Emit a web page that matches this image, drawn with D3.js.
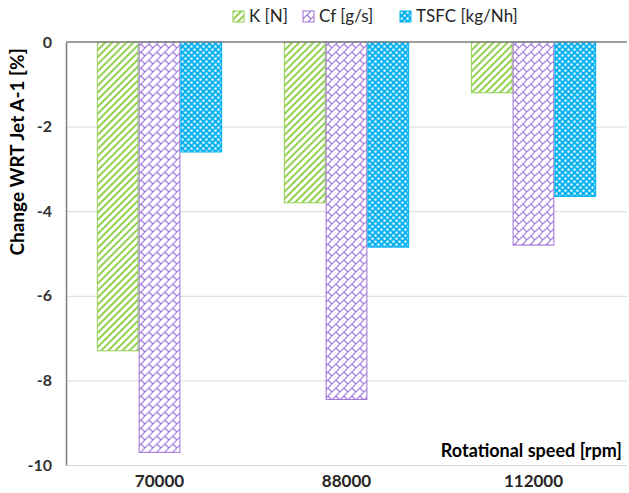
<!DOCTYPE html>
<html>
<head>
<meta charset="utf-8">
<script src="https://cdn.jsdelivr.net/npm/d3@7"></script>
<style>
  body { margin: 0; background: #fff; }
  svg { display: block; font-family: Lato, "Open Sans", sans-serif; }
</style>
</head>
<body>
<svg id="chart" width="629" height="493"></svg>
<script>
// data
const categories = ["70000", "88000", "112000"];
const seriesNames = ["K [N]", "Cf [g/s]", "TSFC [kg/Nh]"];
const kValues = [-7.3, -3.8, -1.2];
const cfValues = [-9.7, -8.45, -4.8];
const tsfcValues = [-2.6, -4.85, -3.65];
const yTicks = [0, -2, -4, -6, -8, -10];

const seriesValues = [kValues, cfValues, tsfcValues];
const colors = ["#92d050", "#9c6fd6", "#00b0f0"];
const patternIds = ["pat-k", "pat-cf", "pat-tsfc"];

const width = 629, height = 493;
const margin = { top: 42, right: 2, bottom: 28, left: 66 };

const svg = d3.select("#chart");
const defs = svg.append("defs");

// green - wide upward diagonal
const pk = defs.append("pattern")
  .attr("id", patternIds[0])
  .attr("patternUnits", "userSpaceOnUse")
  .attr("width", 5).attr("height", 5)
  .attr("patternTransform", "rotate(45)");
pk.append("rect").attr("width", 5).attr("height", 5).attr("fill", "#fff");
pk.append("rect").attr("x", 0).attr("width", 2).attr("height", 5).attr("fill", colors[0]);

// purple - diagonal brick
const pc = defs.append("pattern")
  .attr("id", patternIds[1])
  .attr("patternUnits", "userSpaceOnUse")
  .attr("width", 8).attr("height", 8);
pc.append("rect").attr("width", 8).attr("height", 8).attr("fill", "#fff");
pc.append("path")
  .attr("d", "M-1,9 L9,-1 M4,4 L8,8")
  .attr("stroke", colors[1]).attr("stroke-width", 1.1).attr("fill", "none");
pc.append("path")
  .attr("d", "M-4,4 L0,0 M4,12 L12,4")
  .attr("stroke", colors[1]).attr("stroke-width", 1.1).attr("fill", "none");

// blue - checker
const pt = defs.append("pattern")
  .attr("id", patternIds[2])
  .attr("patternUnits", "userSpaceOnUse")
  .attr("width", 6).attr("height", 6);
pt.append("rect").attr("width", 6).attr("height", 6).attr("fill", colors[2]);
pt.append("rect").attr("x", 0.5).attr("y", 0.5).attr("width", 2.2).attr("height", 2.2).attr("fill", "#fff");
pt.append("rect").attr("x", 3.5).attr("y", 3.5).attr("width", 2.2).attr("height", 2.2).attr("fill", "#fff");

const x0 = d3.scaleBand()
  .domain(categories)
  .range([margin.left, width - margin.right])
  .paddingInner(0.33)
  .paddingOuter(0.165);

const x1 = d3.scaleBand()
  .domain(seriesNames)
  .range([0, x0.bandwidth()]);

const y = d3.scaleLinear()
  .domain([-10, 0])
  .range([height - margin.bottom, margin.top]);

// gridlines
svg.append("g")
  .selectAll("line")
  .data(yTicks.filter(d => d !== 0))
  .join("line")
  .attr("x1", margin.left)
  .attr("x2", width - margin.right)
  .attr("y1", d => y(d) + 0.5)
  .attr("y2", d => y(d) + 0.5)
  .attr("stroke", "#d9d9d9")
  .attr("stroke-width", 1);

// bars
const groups = svg.append("g")
  .selectAll("g")
  .data(categories)
  .join("g")
  .attr("transform", d => `translate(${x0(d)},0)`);

groups.selectAll("rect")
  .data((c, ci) => seriesNames.map((s, si) => ({ s, si, v: seriesValues[si][ci] })))
  .join("rect")
  .attr("x", d => x1(d.s) + 0.5)
  .attr("y", y(0))
  .attr("width", x1.bandwidth() - 1)
  .attr("height", d => y(d.v) - y(0))
  .attr("fill", d => `url(#${patternIds[d.si]})`)
  .attr("stroke", d => colors[d.si])
  .attr("stroke-width", 1);

// y axis
const yAxis = svg.append("g")
  .attr("transform", `translate(${margin.left},0)`)
  .call(d3.axisLeft(y).tickValues(yTicks).tickSize(0).tickPadding(14).tickFormat(d => String(d)));
yAxis.select(".domain").attr("stroke", "#7f7f7f").attr("stroke-width", 1.5);
yAxis.selectAll("text")
  .attr("font-size", 16)
  .attr("font-family", "Lato, sans-serif")
  .attr("font-weight", "bold")
  .attr("fill", "#333");

// zero line (category axis)
svg.append("line")
  .attr("x1", margin.left)
  .attr("x2", width - margin.right)
  .attr("y1", y(0))
  .attr("y2", y(0))
  .attr("stroke", "#7f7f7f")
  .attr("stroke-width", 1.5);

// category labels under the plot
svg.append("g")
  .selectAll("text")
  .data(categories)
  .join("text")
  .attr("x", d => x0(d) + x0.bandwidth() / 2)
  .attr("y", height - 6)
  .attr("text-anchor", "middle")
  .attr("font-size", 17)
  .attr("font-weight", "bold")
  .attr("fill", "#262626")
  .text(d => d);

// axis titles
svg.append("text")
  .attr("x", width - 7)
  .attr("y", 457)
  .attr("text-anchor", "end")
  .attr("font-size", 18)
  .attr("font-weight", "bold")
  .attr("fill", "#000")
  .text("Rotational speed [rpm]");

svg.append("text")
  .attr("transform", "translate(24,152) rotate(-90)")
  .attr("text-anchor", "middle")
  .attr("font-size", 19)
  .attr("font-weight", "bold")
  .attr("fill", "#000")
  .text("Change WRT Jet A-1 [%]");

// legend
const legendX = [233, 303, 400];
const legend = svg.append("g")
  .selectAll("g")
  .data(seriesNames)
  .join("g")
  .attr("transform", (d, i) => `translate(${legendX[i]},11)`);

legend.append("rect")
  .attr("width", 11).attr("height", 11)
  .attr("fill", (d, i) => `url(#${patternIds[i]})`)
  .attr("stroke", (d, i) => colors[i]);

legend.append("text")
  .attr("x", 16)
  .attr("y", 10.5)
  .attr("font-size", 17)
  .attr("fill", "#262626")
  .text(d => d);
</script>
</body>
</html>
